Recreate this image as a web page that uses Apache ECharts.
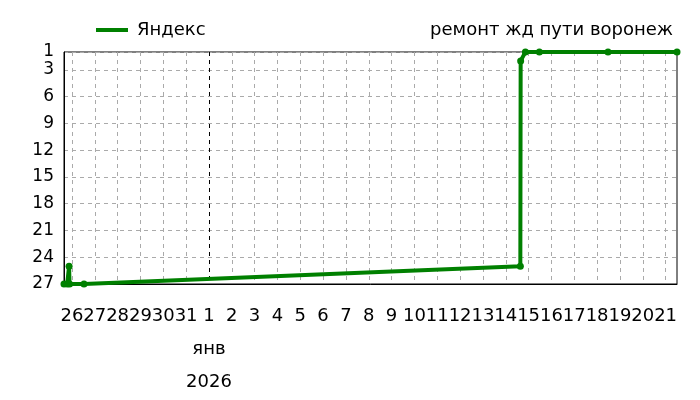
<!DOCTYPE html>
<html><head><meta charset="utf-8">
<script src="https://cdn.jsdelivr.net/npm/echarts@6/dist/echarts.min.js"></script>
<style>html,body{margin:0;padding:0;background:#fff}#c{width:700px;height:400px}</style>
</head><body><div id="c"></div>
<script>
var seriesName = 'Яндекс';
var titleText = 'ремонт жд пути воронеж';
var times = ['2025-12-25 15:40','2025-12-25 19:00','2025-12-25 21:00','2025-12-25 21:30','2025-12-26 12:40',
  '2026-01-14 15:20','2026-01-14 15:40','2026-01-14 20:40','2026-01-15 11:20','2026-01-18 11:30','2026-01-21 12:00'];
var positions = [27,27,25,27,27,25,2,1,1,1,1];
var yTicks = [1,3,6,9,12,15,18,21,24,27];
var dayTicks = ['2025-12-26','2025-12-27','2025-12-28','2025-12-29','2025-12-30','2025-12-31',
  '2026-01-01','2026-01-02','2026-01-03','2026-01-04','2026-01-05','2026-01-06','2026-01-07','2026-01-08',
  '2026-01-09','2026-01-10','2026-01-11','2026-01-12','2026-01-13','2026-01-14','2026-01-15','2026-01-16',
  '2026-01-17','2026-01-18','2026-01-19','2026-01-20','2026-01-21'];
var monthMark = '2026-01-01';
var monthLabel = 'янв';
var yearLabel = '2026';

var DAY = 86400000;
function ts(s){ var p = s.split(/[- :]/).map(Number); return Date.UTC(p[0], p[1]-1, p[2], p[3]||0, p[4]||0); }
var origin = ts(monthMark);
function dayOf(s){ return Math.round((ts(s)-origin)/DAY*10000)/10000; }
var data = times.map(function(t,i){ return [dayOf(t), positions[i]]; });
var tickVals = dayTicks.map(function(s){ return Math.round((ts(s)-origin)/DAY); });
var FONT = 'DejaVu Sans';

var chart = echarts.init(document.getElementById('c'), null, {renderer:'canvas'});
chart.setOption({
  animation:false,
  textStyle:{fontFamily:FONT},
  title:{text:titleText, right:22, top:16, textStyle:{fontFamily:FONT, fontSize:18, fontWeight:'normal', color:'#000'}},
  legend:{left:91, top:16, itemWidth:32, itemHeight:4, icon:'rect', itemGap:8,
    textStyle:{fontFamily:FONT, fontSize:18, color:'#000', padding:[0,0,0,4]}, data:[{name:seriesName}]},
  grid:{left:64, right:23, top:52, bottom:116, show:true, borderColor:'#000', borderWidth:1, backgroundColor:'transparent'},
  xAxis:{type:'value', min:data[0][0], max:data[data.length-1][0],
    axisLine:{show:true, onZero:false, lineStyle:{color:'#000', width:1}},
    axisTick:{show:false, customValues:tickVals},
    splitLine:{show:true, lineStyle:{color:'#aaa', type:[4,4], width:1}},
    axisLabel:{customValues:tickVals, color:'#000', fontSize:18, margin:16,
      formatter:function(v){ var d=new Date(origin + v*DAY); var n=d.getUTCDate();
        if (v===0) return '{a|'+n+'}\n{a|'+monthLabel+'}\n{a|'+yearLabel+'}';
        return '{a|'+n+'}'; },
      rich:{a:{fontFamily:FONT, fontSize:18, color:'#000', lineHeight:33}}}
  },
  yAxis:{type:'value', inverse:true, min:1, max:27,
    axisLine:{show:true, onZero:false, lineStyle:{color:'#000', width:1}},
    axisTick:{show:false, customValues:yTicks},
    splitLine:{show:true, lineStyle:{color:'#aaa', type:[4,4], width:1}},
    axisLabel:{customValues:yTicks, color:'#000', fontSize:17, margin:10}
  },
  series:[{name:seriesName, type:'line', data:data, color:'#008000',
    lineStyle:{width:4, color:'#008000'}, symbol:'circle', symbolSize:7, showSymbol:true,
    itemStyle:{color:'#008000'},
    markLine:{silent:true, symbol:['none','none'], label:{show:false}, z:1,
      lineStyle:{color:'#000', type:[4,4], width:1}, data:[{xAxis:0}]}
  }]
});
</script></body></html>
